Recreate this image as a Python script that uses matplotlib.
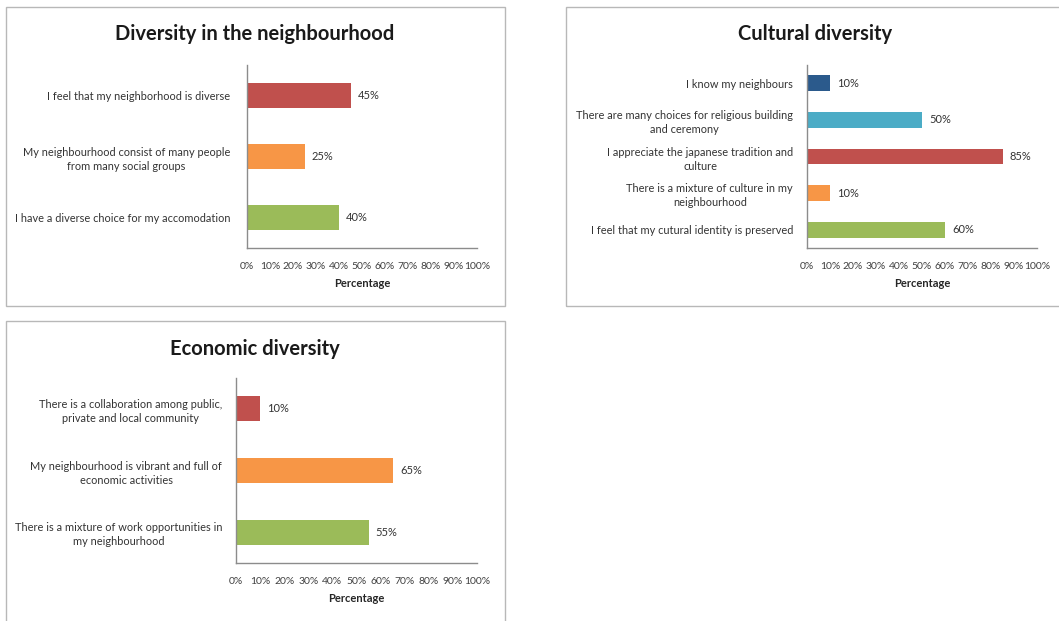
import matplotlib

matplotlib.use("Agg")
import matplotlib.pyplot as plt
from matplotlib.patches import Rectangle

plt.rcParams["font.family"] = ["Lato", "DejaVu Sans"]

W, H = 1059, 621

RED = "#c0504d"
ORANGE = "#f79646"
GREEN = "#9bbb59"
NAVY = "#2b5a8c"
AQUA = "#4bacc6"

# survey results, listed top to bottom
neigh_title = "Diversity in the neighbourhood"
neigh_labels = [
    "I feel that my neighborhood is diverse",
    "My neighbourhood consist of many people\nfrom many social groups",
    "I have a diverse choice for my accomodation",
]
neigh_values = [45, 25, 40]
neigh_colors = [RED, ORANGE, GREEN]

cult_title = "Cultural diversity"
cult_labels = [
    "I know my neighbours",
    "There are many choices for religious building\nand ceremony",
    "I appreciate the japanese tradition and\nculture",
    "There is a mixture of culture in my\nneighbourhood",
    "I feel that my cutural identity is preserved",
]
cult_values = [10, 50, 85, 10, 60]
cult_colors = [NAVY, AQUA, RED, ORANGE, GREEN]

econ_title = "Economic diversity"
econ_labels = [
    "There is a collaboration among public,\nprivate and local community",
    "My neighbourhood is vibrant and full of\neconomic activities",
    "There is a mixture of work opportunities in\nmy neighbourhood",
]
econ_values = [10, 65, 55]
econ_colors = [RED, ORANGE, GREEN]

x_ticks = list(range(0, 101, 10))
x_tick_labels = [f"{t}%" for t in x_ticks]


def px_rect(x0, y0, x1, y1):
    """Pixel box (top-left origin) -> figure fraction [l, b, w, h]."""
    return [x0 / W, 1 - y1 / H, (x1 - x0) / W, (y1 - y0) / H]


fig = plt.figure(figsize=(W / 100, H / 100), dpi=100)
fig.patch.set_facecolor("white")


def frame(x0, y0, x1, y1):
    l, b, w, h = px_rect(x0, y0, x1, y1)
    fig.patches.append(Rectangle((l, b), w, h, transform=fig.transFigure,
                                 fill=False, edgecolor="#b8b8b8", linewidth=1.0))


def panel(box, title, title_xy, labels, values, colors, bar_h, ypad):
    ax = fig.add_axes(px_rect(*box))
    n = len(values)
    ypos = list(range(n))[::-1]
    ax.barh(ypos, values, height=bar_h, color=colors)
    ax.set_xlim(0, 100)
    ax.set_ylim(-0.5, n - 0.5)
    ax.set_yticks(ypos)
    ax.set_yticklabels(labels, fontsize=7.9, color="#333333", linespacing=1.35,
                       multialignment="center")
    ax.set_xticks(x_ticks)
    ax.set_xticklabels(x_tick_labels, fontsize=7.5, color="#404040")
    ax.tick_params(length=0, pad=10)
    ax.tick_params(axis="y", pad=ypad)
    for side in ("top", "right"):
        ax.spines[side].set_visible(False)
    for side in ("left", "bottom"):
        ax.spines[side].set_color("#8c8c8c")
        ax.spines[side].set_linewidth(1.0)
    for y, v in zip(ypos, values):
        ax.text(v + 3, y, f"{v}%", va="center", ha="left", fontsize=8, color="#333333")
    ax.set_xlabel("Percentage", fontsize=8, fontweight="bold", color="#262626", labelpad=5)
    fig.text(title_xy[0] / W, 1 - title_xy[1] / H, title, ha="center", va="center",
             fontsize=14.5, fontweight="bold", color="#1a1a1a")
    return ax


frame(6, 7, 505, 306)
frame(566, 7, 1075, 306)
frame(6, 321, 505, 640)

panel((247, 65, 477, 248), neigh_title, (255, 34), neigh_labels, neigh_values, neigh_colors, 0.41, 12)
panel((807, 65, 1037, 248), cult_title, (815, 34), cult_labels, cult_values, cult_colors, 0.43, 10)
panel((236, 378, 477, 563), econ_title, (255, 349), econ_labels, econ_values, econ_colors, 0.41, 10)

fig.savefig("out.png", dpi=100)
